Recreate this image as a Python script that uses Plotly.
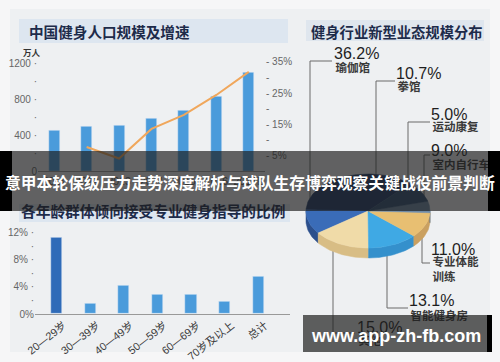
import math
import plotly.graph_objects as go

W, H = 500, 362

# ---------------- data ----------------
years = ["2011", "2012", "2013", "2014", "2015", "2016", "2017E"]
fitness_pop = [455, 489, 511, 578, 667, 833, 1100]          # 万人
growth_years = ["2012", "2013", "2014", "2015", "2016", "2017E"]
growth_rate = [7.7, 4.0, 13.5, 18.0, 24.4, 31.8]             # %

age_groups = ["20—29岁", "30—39岁", "40—49岁", "50—59岁", "60—69岁", "70岁及以上", "总计"]
guidance_ratio = [11.3, 1.5, 4.2, 2.9, 2.9, 1.8, 5.6]        # %

pie_labels = ["瑜伽馆", "拳馆", "其他", "智能健身房", "专业体能训练", "运动康复", "室内自行车"]
pie_values = [36.2, 10.7, 15.0, 13.1, 11.0, 5.0, 9.0]        # %

left_ticks = [0, 200, 400, 600, 800, 1000, 1200]
left_ticktext = ["0", "·", "400 ·", "·", "800 ·", "·", "1200 ·"]
right_ticks = [5, 10, 15, 20, 25, 30, 35]
right_ticktext = ["- 5%", "-", "- 15%", "-", "- 25%", "-", "- 35%"]
bottom_ticks = [0, 2, 4, 6, 8, 10, 12]
bottom_ticktext = ["0%", "·", "4% ·", "·", "8% ·", "·", "12% ·"]

# ---------------- styles ----------------
CJK = "Noto Sans CJK SC"
NUM = "Liberation Sans, Noto Sans CJK SC"
BAR = "#4a9bdb"
BAR_DARK = "#2f6bb8"
LINE = "#f0a75c"

pie_top = {"瑜伽馆": "#1f3866", "拳馆": "#3a6cb8", "其他": "#f0dba8", "智能健身房": "#3fa9e4",
           "专业体能训练": "#e8bf72", "运动康复": "#6f8aa6", "室内自行车": "#2f4f73"}
pie_side = {"瑜伽馆": "#16294b", "拳馆": "#2b4f8c", "其他": "#d8bd85", "智能健身房": "#3490cc",
            "专业体能训练": "#caa060", "运动康复": "#56708c", "室内自行车": "#243d5a"}
# label anchor (left x, center y of percent, center y of name)
pie_label_pos = {"瑜伽馆": (334, 55, 69), "拳馆": (396, 75, 88), "运动康复": (431, 116, 128),
                 "室内自行车": (431, 152, 166), "专业体能训练": (431, 251, 271),
                 "智能健身房": (409, 302, 317), "其他": (357, 329, 342)}
leaders = [  # polyline points in pixels
    [(332, 61), (310, 61), (310, 200)],
    [(395, 81), (376, 81), (376, 176)],
    [(430, 122), (408, 122), (408, 186)],
    [(430, 155), (424, 155), (424, 199)],
    [(430, 263), (422, 263), (422, 238)],
    [(408, 308), (387, 308), (387, 255)],
    [(355, 333), (333, 333), (333, 250)],
]
CX, CY, RX, RY, TH = 368, 211, 62, 37, 10
START = 47.7


def px(x):
    return x / W


def py(y):
    return 1 - y / H


fig = go.Figure()

# ---------- chart 1: population bars + growth line ----------
fig.add_trace(go.Bar(x=years, y=fitness_pop, marker_color=BAR, width=0.34,
                     xaxis="x", yaxis="y", showlegend=False))
fig.add_trace(go.Scatter(x=growth_years, y=growth_rate, mode="lines",
                         line=dict(color=LINE, width=2), xaxis="x", yaxis="y2",
                         showlegend=False))

# ---------- chart 2: age group bars ----------
fig.add_trace(go.Bar(x=age_groups, y=guidance_ratio,
                     marker_color=[BAR_DARK] + [BAR] * (len(age_groups) - 1),
                     width=0.33, xaxis="x2", yaxis="y3", showlegend=False))


# ---------- chart 3: 3D-look pie drawn on a pixel axis ----------
def arc(a0, a1, dy=0):
    n = max(2, int(abs(a1 - a0) / 2) + 2)
    pts = []
    for i in range(n):
        a = math.radians(a0 + (a1 - a0) * i / (n - 1))
        pts.append((CX + RX * math.cos(a), CY - RY * math.sin(a) + dy))
    return pts


angles = []
a = START
for v in pie_values:
    span = 360 * v / sum(pie_values)
    angles.append((a, a + span))
    a += span

for lab, (a0, a1) in zip(pie_labels, angles):
    for w0, w1 in [(180, 360), (540, 720)]:
        s0, s1 = max(a0, w0), min(a1, w1)
        if s1 > s0:
            pts = arc(s0, s1) + list(reversed(arc(s0, s1, TH)))
            fig.add_trace(go.Scatter(x=[p[0] for p in pts] + [pts[0][0]],
                                     y=[p[1] for p in pts] + [pts[0][1]],
                                     mode="lines", fill="toself", fillcolor=pie_side[lab],
                                     line=dict(color=pie_side[lab], width=0.5),
                                     xaxis="x3", yaxis="y4", showlegend=False, hoverinfo="skip"))
for lab, v, (a0, a1) in zip(pie_labels, pie_values, angles):
    pts = [(CX, CY)] + arc(a0, a1) + [(CX, CY)]
    fig.add_trace(go.Scatter(x=[p[0] for p in pts], y=[p[1] for p in pts],
                             mode="lines", fill="toself", fillcolor=pie_top[lab],
                             line=dict(color=pie_top[lab], width=0.5),
                             xaxis="x3", yaxis="y4", showlegend=False, name=lab,
                             hovertemplate=f"{lab}: {v}%<extra></extra>"))

# pie labels as text traces (so banners can cover them)
fig.add_trace(go.Scatter(
    x=[pie_label_pos[l][0] for l in pie_labels],
    y=[pie_label_pos[l][1] for l in pie_labels],
    text=[f"{v:.1f}%" for v in pie_values], mode="text", textposition="middle right",
    textfont=dict(family=NUM, size=16, color="#1e1e1e"),
    xaxis="x3", yaxis="y4", showlegend=False, hoverinfo="skip", cliponaxis=False))
fig.add_trace(go.Scatter(
    x=[pie_label_pos[l][0] + 1.5 for l in pie_labels],
    y=[pie_label_pos[l][2] for l in pie_labels],
    text=[f"<b>{l[:4]}<br>{l[4:]}</b>" if len(l) > 5 else f"<b>{l}</b>" for l in pie_labels],
    mode="text", textposition="middle right",
    textfont=dict(family=CJK, size=11.5, color="#3a3a3a"),
    xaxis="x3", yaxis="y4", showlegend=False, hoverinfo="skip", cliponaxis=False))
# bottom-left title as text trace (partly under the banner)
fig.add_trace(go.Scatter(x=[21], y=[213], text=["<b>各年龄群体倾向接受专业健身指导的比例</b>"],
                         mode="text", textposition="middle right",
                         textfont=dict(family=CJK, size=14.7, color="#1d2b4a"),
                         xaxis="x3", yaxis="y4", showlegend=False, hoverinfo="skip",
                         cliponaxis=False))

# ---------------- shapes ----------------
shapes = []


def rect(x0, y0, x1, y1, color, layer="below"):
    shapes.append(dict(type="rect", xref="paper", yref="paper", x0=px(x0), x1=px(x1),
                       y0=py(y1), y1=py(y0), fillcolor=color, line=dict(width=0), layer=layer))


rect(10, 9, 490, 352, "#eef0f2")
rect(19, 19, 288, 43, "#dde6f0")
rect(306, 20, 484, 41, "#dfe6ee")
rect(19, 204, 290, 222, "#dde6f0")

for pts in leaders:
    for (x0, y0), (x1, y1) in zip(pts[:-1], pts[1:]):
        shapes.append(dict(type="line", xref="paper", yref="paper", x0=px(x0), y0=py(y0),
                           x1=px(x1), y1=py(y1), line=dict(color="#6a6a6a", width=1),
                           layer="below"))

# overlay banners
rect(12, 151, 488, 211, "rgba(30,30,30,0.68)", "above")
rect(0, 151, 12, 211, "#000000", "above")
rect(488, 151, 500, 211, "#000000", "above")
rect(303, 315, 487, 352, "rgba(30,30,30,0.70)", "above")
rect(487, 315, 492, 352, "#000000", "above")

# ---------------- annotations ----------------
annotations = [
    dict(x=px(27), y=py(31), xref="paper", yref="paper", xanchor="left", yanchor="middle",
         text="<b>中国健身人口规模及增速</b>", showarrow=False,
         font=dict(family=CJK, size=14.6, color="#1d2b4a")),
    dict(x=px(309), y=py(31), xref="paper", yref="paper", xanchor="left", yanchor="middle",
         text="<b>健身行业新型业态规模分布</b>", showarrow=False,
         font=dict(family=CJK, size=14.3, color="#1d2b4a")),
    dict(x=px(21), y=py(52), xref="paper", yref="paper", xanchor="left", yanchor="middle",
         text="<b>万人</b>", showarrow=False, font=dict(family=CJK, size=8.5, color="#333")),
    dict(x=0.5, y=py(182), xref="paper", yref="paper", xanchor="center", yanchor="middle",
         text="<b>意甲本轮保级压力走势深度解析与球队生存博弈观察关键战役前景判断</b>",
         showarrow=False, font=dict(family=CJK, size=15.8, color="#ffffff")),
    dict(x=px(396), y=py(336), xref="paper", yref="paper", xanchor="center", yanchor="middle",
         text="<b>www.app-zh-fb.com</b>", showarrow=False,
         font=dict(family="Liberation Sans", size=18, color="#ffffff")),
]

tickfont = dict(family=NUM, size=10, color="#666")
fig.update_layout(
    width=W, height=H, margin=dict(l=0, r=0, t=0, b=0, pad=0, autoexpand=False),
    paper_bgcolor="#f6f6f7", plot_bgcolor="rgba(0,0,0,0)",
    showlegend=False, bargap=0,
    shapes=shapes, annotations=annotations,
    xaxis=dict(domain=[px(38), px(265)], range=[-0.5, 6.5], anchor="y", type="category",
               showline=True, linecolor="#999", linewidth=1, ticks="", automargin=False,
               tickfont=dict(family=NUM, size=10.5, color="#555"), showgrid=False, fixedrange=True),
    yaxis=dict(domain=[py(171), py(58.5)], range=[0, 1250], anchor="x", automargin=False,
               tickvals=left_ticks, ticktext=left_ticktext, tickfont=tickfont,
               showgrid=False, zeroline=False, showline=False, ticks="", fixedrange=True),
    yaxis2=dict(domain=[py(171), py(58.5)], range=[0, 36.1], anchor="x", overlaying="y",
                side="right", tickvals=right_ticks, ticktext=right_ticktext, tickfont=tickfont,
                automargin=False,
                showgrid=False, zeroline=False, showline=False, ticks="", fixedrange=True),
    xaxis2=dict(domain=[px(35), px(290)], range=[-0.65, 6.95], anchor="y3", type="category",
                showline=True, linecolor="#999", linewidth=1, ticks="", tickangle=-38,
                ticklabelshift=7, automargin=False,
                tickfont=dict(family=NUM, size=10.8, color="#3a3a3a"), showgrid=False,
                fixedrange=True),
    yaxis3=dict(domain=[py(314), py(229.6)], range=[0, 12.5], anchor="x2", automargin=False,
                tickvals=bottom_ticks, ticktext=bottom_ticktext, tickfont=tickfont,
                showgrid=False, zeroline=False, showline=False, ticks="", fixedrange=True),
    xaxis3=dict(domain=[0, 1], range=[0, W], anchor="y4", visible=False, fixedrange=True,
                automargin=False),
    yaxis4=dict(domain=[0, 1], range=[H, 0], anchor="x3", visible=False, fixedrange=True,
                automargin=False),
)

fig.write_html("out.html")
